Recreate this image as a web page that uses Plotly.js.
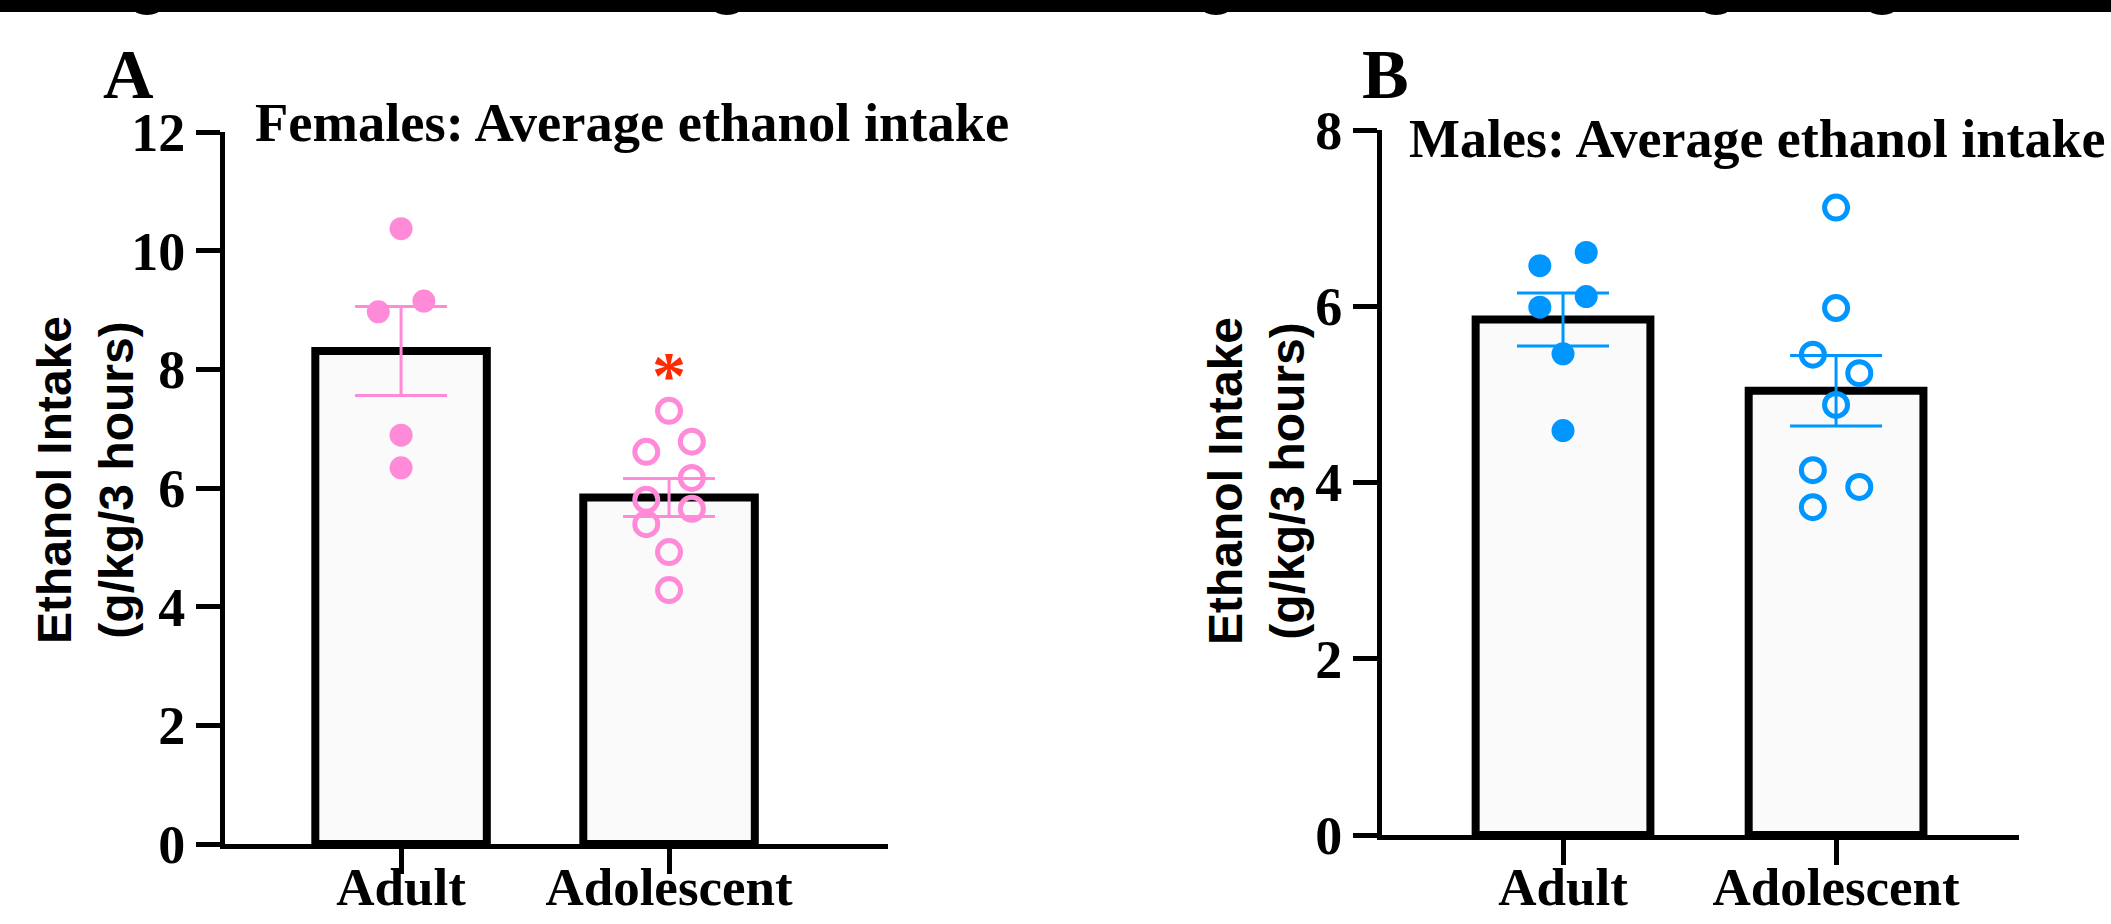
<!DOCTYPE html>
<html>
<head>
<meta charset="utf-8">
<script src="https://cdn.plot.ly/plotly-3.0.1.min.js"></script>
<style>html,body{margin:0;padding:0;background:#fff;}#chart{width:2111px;height:924px;}</style>
</head>
<body>
<div id="chart"></div>
<script>
// ---------- data ----------
const categories = ['Adult', 'Adolescent'];

const femaleMeans = [8.31, 5.84];
const femaleSEM = [0.75, 0.32];
const femaleAdult = [10.37, 8.97, 9.15, 6.89, 6.34];
const femaleAdolescent = [7.30, 6.61, 6.78, 6.17, 5.80, 5.65, 5.39, 4.92, 4.28];
const femaleSigY = 8.05;          // red asterisk above adolescent females

const maleMeans = [5.85, 5.04];
const maleSEM = [0.30, 0.40];
const maleAdult = [6.46, 6.61, 5.99, 6.11, 5.46, 4.59];
const maleAdolescent = [7.12, 5.98, 5.45, 5.24, 4.88, 4.14, 3.95, 3.72];

const femaleYTicks = [0, 2, 4, 6, 8, 10, 12];
const maleYTicks = [0, 2, 4, 6, 8];

// ---------- style ----------
const W = 2111, H = 924;
const px = v => v / W;
const py = v => 1 - v / H;
const PINK = '#ff8ad8';
const BLUE = '#0096ff';
const RED = '#ff2a00';
const SERIF = 'Liberation Serif, Times New Roman, serif';
const SANS = 'Liberation Sans, Arial, sans-serif';
const JIT = 0.085;
// jitter side for each point (-1 left, 0 centre, +1 right)
const fAdultSide = [0, -1, 1, 0, 0];
const fAdolSide = [0, -1, 1, 1, -1, 1, -1, 0, 0];
const mAdultSide = [-1, 1, -1, 1, 0, 0];
const mAdolSide = [0, 0, -1, 1, 0, -1, 1, -1];

function xs(idx, sides) { return sides.map(s => idx + s * JIT); }

function barTrace(means, sem, color, xa, ya) {
  return {
    type: 'bar', x: [0, 1], y: means, width: 0.64,
    xaxis: xa, yaxis: ya,
    marker: { color: '#fafafa', line: { color: '#000', width: 8 } },
    error_y: { type: 'data', array: sem, visible: true, color: color, thickness: 3, width: 46 },
    hoverinfo: 'skip', showlegend: false
  };
}
function dots(x, y, color, open, xa, ya) {
  return {
    type: 'scatter', mode: 'markers', x: x, y: y, xaxis: xa, yaxis: ya,
    cliponaxis: false, showlegend: false, hoverinfo: 'skip',
    marker: open
      ? { symbol: 'circle-open', size: 23, color: color, line: { color: color, width: 5 } }
      : { symbol: 'circle', size: 23, color: color, line: { width: 0 } }
  };
}

const traces = [
  barTrace(femaleMeans, femaleSEM, PINK, 'x', 'y'),
  dots(xs(0, fAdultSide), femaleAdult, PINK, false, 'x', 'y'),
  dots(xs(1, fAdolSide), femaleAdolescent, PINK, true, 'x', 'y'),
  barTrace(maleMeans, maleSEM, BLUE, 'x2', 'y2'),
  dots(xs(0, mAdultSide), maleAdult, BLUE, false, 'x2', 'y2'),
  dots(xs(1, mAdolSide), maleAdolescent, BLUE, true, 'x2', 'y2')
];

const tickFont = { family: SERIF, size: 54, color: '#000', weight: 'bold' };
function xAxis(domain, range, anchor, standoff) {
  return {
    domain: domain, range: range, anchor: anchor,
    tickmode: 'array', tickvals: [0, 1], ticktext: categories,
    showline: true, linecolor: '#000', linewidth: 5,
    ticks: 'outside', ticklen: 25, tickwidth: 5, tickcolor: '#000',
    tickfont: { family: SERIF, size: 53, color: '#000', weight: 'bold' },
    ticklabelstandoff: standoff,
    showgrid: false, zeroline: false, fixedrange: true, automargin: false
  };
}
function yAxis(domain, range, tickvals, anchor) {
  return {
    domain: domain, range: range, anchor: anchor,
    tickmode: 'array', tickvals: tickvals,
    showline: true, linecolor: '#000', linewidth: 5,
    ticks: 'outside', ticklen: 24, tickwidth: 5, tickcolor: '#000',
    tickfont: tickFont, showgrid: false, zeroline: false, fixedrange: true, automargin: false
  };
}

const layout = {
  width: W, height: H,
  margin: { l: 0, r: 0, t: 0, b: 0, pad: 0 },
  paper_bgcolor: '#fff', plot_bgcolor: 'rgba(0,0,0,0)',
  showlegend: false, bargap: 0,
  xaxis: xAxis([px(225), px(888)], [-0.657, 1.817], 'y', -33),
  yaxis: yAxis([py(844), py(132)], [0, 12], femaleYTicks, 'x'),
  xaxis2: xAxis([px(1382), px(2019)], [-0.663, 1.670], 'y2', -24),
  yaxis2: yAxis([py(835), py(130)], [0, 8], maleYTicks, 'x2'),
  annotations: [
    { text: '*', xref: 'x', yref: 'y', x: 1, y: femaleSigY, yshift: -9, xanchor: 'center', yanchor: 'middle',
      showarrow: false, font: { family: SERIF, size: 68, color: RED, weight: 'bold' } },
    { text: 'A', xref: 'paper', yref: 'paper', x: px(101), y: py(74), xanchor: 'left', yanchor: 'middle',
      showarrow: false, font: { family: SERIF, size: 70, color: '#000', weight: 'bold' } },
    { text: 'B', xref: 'paper', yref: 'paper', x: px(1360), y: py(74), xanchor: 'left', yanchor: 'middle',
      showarrow: false, font: { family: SERIF, size: 70, color: '#000', weight: 'bold' } },
    { text: 'Females: Average ethanol intake', xref: 'paper', yref: 'paper', x: px(253), y: py(122),
      xanchor: 'left', yanchor: 'middle', showarrow: false,
      font: { family: SERIF, size: 54.5, color: '#000', weight: 'bold' } },
    { text: 'Males: Average ethanol intake', xref: 'paper', yref: 'paper', x: px(1407), y: py(139),
      xanchor: 'left', yanchor: 'middle', showarrow: false,
      font: { family: SERIF, size: 54, color: '#000', weight: 'bold' } },
    { text: 'Ethanol Intake<br>(g/kg/3 hours)', xref: 'paper', yref: 'paper', x: px(86), y: py(480),
      xanchor: 'center', yanchor: 'middle', textangle: -90, showarrow: false,
      font: { family: SANS, size: 48, color: '#000', weight: 'bold' } },
    { text: 'Ethanol Intake<br>(g/kg/3 hours)', xref: 'paper', yref: 'paper', x: px(1256), y: py(481),
      xanchor: 'center', yanchor: 'middle', textangle: -90, showarrow: false,
      font: { family: SANS, size: 48, color: '#000', weight: 'bold' } }
  ],
  shapes: [
    { type: 'rect', xref: 'paper', yref: 'paper', x0: 0, x1: 1, y0: py(12), y1: 1,
      fillcolor: '#000', line: { width: 0 }, layer: 'above' }
  ].concat([147, 727, 1216, 1716, 1882].map(c => ({
    type: 'circle', xref: 'paper', yref: 'paper', x0: px(c - 13), x1: px(c + 13), y0: py(15), y1: py(3),
    fillcolor: '#000', line: { width: 0 }, layer: 'above'
  })))
};

Plotly.newPlot('chart', traces, layout, { staticPlot: true, displayModeBar: false });
</script>
</body>
</html>
